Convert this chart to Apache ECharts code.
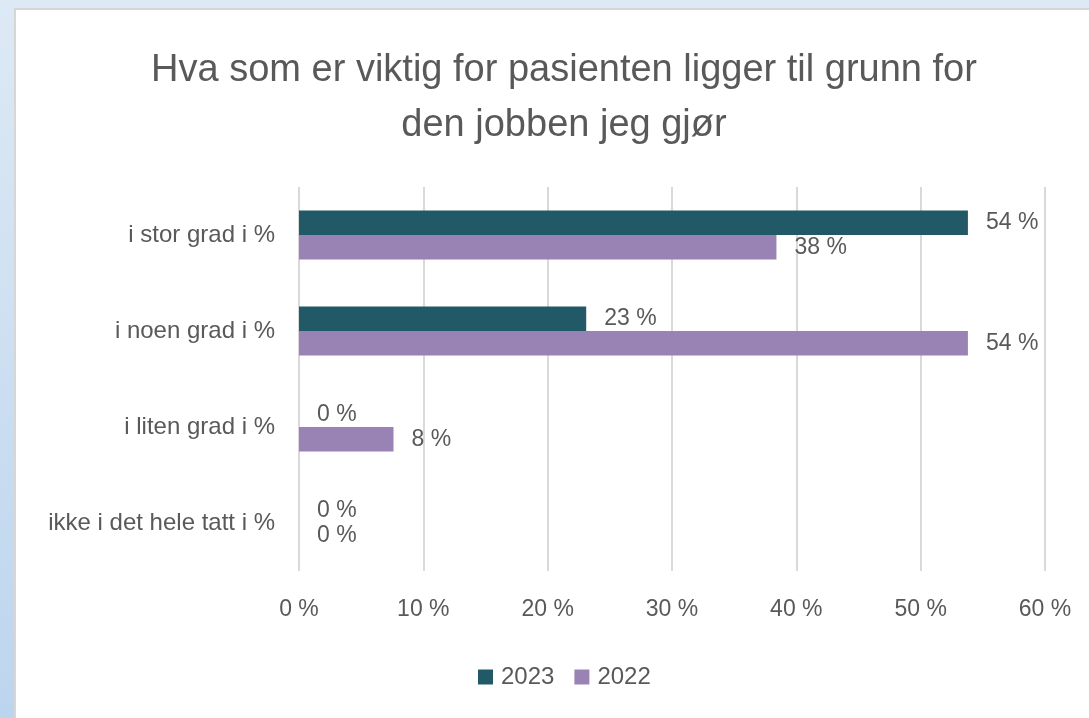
<!DOCTYPE html>
<html>
<head>
<meta charset="utf-8">
<script src="https://cdn.jsdelivr.net/npm/echarts@6/dist/echarts.min.js"></script>
<style>
  html, body { margin: 0; padding: 0; }
  body {
    width: 1089px; height: 718px; overflow: hidden;
    background: linear-gradient(to bottom, #dde9f5, #bcd5ee);
    position: relative;
  }
  #chart {
    position: absolute; left: 14px; top: 8px;
    width: 1073px; height: 708px;
    background: #fff;
    border-left: 2px solid #d6d6d6;
    border-top: 2px solid #d6d6d6;
  }
</style>
</head>
<body>
<div id="chart"></div>
<script>
const titleText = 'Hva som er viktig for pasienten ligger til grunn for\nden jobben jeg gjør'
const categories = ['i stor grad i %', 'i noen grad i %', 'i liten grad i %', 'ikke i det hele tatt i %']
const values2023 = [53.8, 23.1, 0, 0]
const values2022 = [38.4, 53.8, 7.6, 0]
const seriesNames = ['2023', '2022']
const colors = ['#225967', '#9982b4']

const font = '"Liberation Sans", Arial, sans-serif'
const textColor = '#595959'

const chart = echarts.init(document.getElementById('chart'), null, { renderer: 'canvas' })

const pctLabel = {
  show: true,
  position: 'right',
  distance: 18,
  color: textColor,
  fontSize: 23,
  fontFamily: font,
  formatter: p => Math.round(p.value) + ' %'
}

chart.setOption({
  animation: false,
  title: {
    text: titleText,
    left: 543,
    top: 28,
    textAlign: 'center',
    textStyle: {
      color: textColor,
      fontSize: 38,
      fontWeight: 'normal',
      fontFamily: font,
      lineHeight: 55
    }
  },
  legend: {
    data: seriesNames,
    bottom: 24,
    left: 457,
    icon: 'rect',
    itemWidth: 15,
    itemHeight: 15,
    itemGap: 20,
    textStyle: { color: textColor, fontSize: 24, fontFamily: font, padding: [0, 0, 0, 3] }
  },
  grid: {
    left: 283,
    right: 44,
    top: 177,
    bottom: 147,
    containLabel: false
  },
  xAxis: {
    type: 'value',
    min: 0,
    max: 60,
    interval: 10,
    axisLine: { show: false },
    axisTick: { show: false },
    splitLine: { lineStyle: { color: '#d9d9d9', width: 2 } },
    axisLabel: {
      color: textColor,
      fontSize: 23,
      fontFamily: font,
      margin: 27,
      formatter: v => v + ' %'
    }
  },
  yAxis: {
    type: 'category',
    data: categories,
    inverse: true,
    axisLine: { show: false },
    axisTick: { show: false },
    axisLabel: {
      color: textColor,
      fontSize: 24,
      fontFamily: font,
      margin: 24
    }
  },
  series: [
    {
      name: seriesNames[0],
      type: 'bar',
      data: values2023,
      itemStyle: { color: colors[0] },
      barGap: '0%',
      barCategoryGap: '49%',
      label: pctLabel
    },
    {
      name: seriesNames[1],
      type: 'bar',
      data: values2022,
      itemStyle: { color: colors[1] },
      barGap: '0%',
      barCategoryGap: '49%',
      label: pctLabel
    }
  ]
})
</script>
</body>
</html>
